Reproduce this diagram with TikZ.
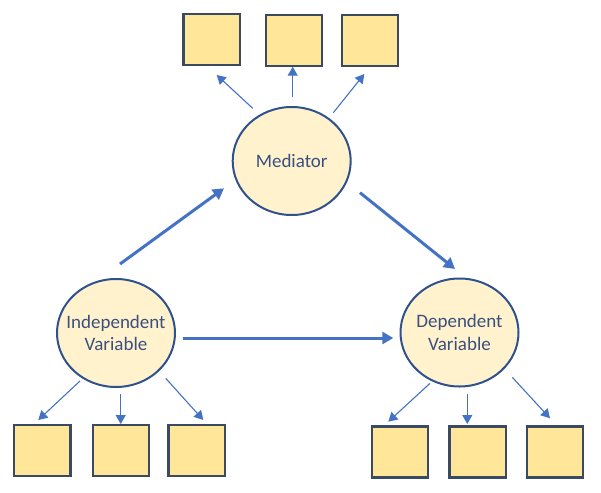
\documentclass[tikz,border=0pt]{standalone}
\usepackage{fontspec}
\setmainfont{Carlito}
\usetikzlibrary{shapes.geometric,arrows.meta}
\definecolor{arrowblue}{HTML}{4472C4}
\definecolor{circline}{HTML}{2F528F}
\definecolor{circfill}{HTML}{FFF2CC}
\definecolor{boxline}{HTML}{3B4A63}
\definecolor{boxfill}{HTML}{FFE699}
\definecolor{txtcol}{HTML}{3A5080}
\tikzset{
  varnode/.style={ellipse, draw=circline, fill=circfill, line width=2pt,
    minimum width=118pt, minimum height=108pt, inner sep=-12pt,
    align=center, text=txtcol,
    font=\fontsize{19pt}{22.3pt}\selectfont},
  itembox/.style={rectangle, draw=boxline, fill=boxfill, line width=2.2pt,
    minimum width=56.5pt, minimum height=51pt, inner sep=0pt},
  thinarrow/.style={draw=arrowblue, line width=1.1pt,
    -{Triangle[length=9pt,width=10pt]}},
  thickarrow/.style={draw=arrowblue, line width=3pt,
    -{Triangle[length=11pt,width=12pt]}}
}
\begin{document}
\begin{tikzpicture}[x=1pt,y=-1pt]
\useasboundingbox (0,0) rectangle (601,492);
% variables
\node[varnode] (med) at (291.7,161) {Mediator};
\node[varnode] (iv) at (116,333) {Independent\\Variable};
\node[varnode] (dv) at (459.5,332.5) {Dependent\\Variable};
% boxes
\node[itembox] (t1) at (211.7,39.5) {};
\node[itembox] (t2) at (294,40.3) {};
\node[itembox] (t3) at (370,40.3) {};
\node[itembox] (b1) at (42.3,450.8) {};
\node[itembox] (b2) at (121,450.2) {};
\node[itembox] (b3) at (196.7,450.2) {};
\node[itembox] (c1) at (400,452) {};
\node[itembox] (c2) at (477.7,452) {};
\node[itembox] (c3) at (555,452) {};
% arrow end points
\coordinate (m1s) at (252.7,108.3); \coordinate (m1e) at (216.7,75);
\coordinate (m2s) at (292.7,97.3);  \coordinate (m2e) at (292.7,66.7);
\coordinate (m3s) at (333.3,112.7); \coordinate (m3e) at (364.3,74);
\coordinate (i1s) at (80,381);      \coordinate (i1e) at (38.3,420);
\coordinate (i2s) at (120.7,394);   \coordinate (i2e) at (120.7,424);
\coordinate (i3s) at (165.7,378.3); \coordinate (i3e) at (203.3,420);
\coordinate (d1s) at (430,383.3);   \coordinate (d1e) at (388.3,421.7);
\coordinate (d2s) at (467.3,394);   \coordinate (d2e) at (467.3,424);
\coordinate (d3s) at (512.3,377.3); \coordinate (d3e) at (550,418.3);
\coordinate (ims) at (120,264);     \coordinate (ime) at (224,188.3);
\coordinate (mds) at (360,192.7);   \coordinate (mde) at (455,269);
\coordinate (ids) at (183.3,338);   \coordinate (ide) at (393.3,338);
% thin arrows
\draw[thinarrow] (m1s) -- (m1e);
\draw[thinarrow] (m2s) -- (m2e);
\draw[thinarrow] (m3s) -- (m3e);
\draw[thinarrow] (i1s) -- (i1e);
\draw[thinarrow] (i2s) -- (i2e);
\draw[thinarrow] (i3s) -- (i3e);
\draw[thinarrow] (d1s) -- (d1e);
\draw[thinarrow] (d2s) -- (d2e);
\draw[thinarrow] (d3s) -- (d3e);
% thick arrows
\draw[thickarrow] (ims) -- (ime);
\draw[thickarrow] (mds) -- (mde);
\draw[thickarrow] (ids) -- (ide);
\end{tikzpicture}
\end{document}
